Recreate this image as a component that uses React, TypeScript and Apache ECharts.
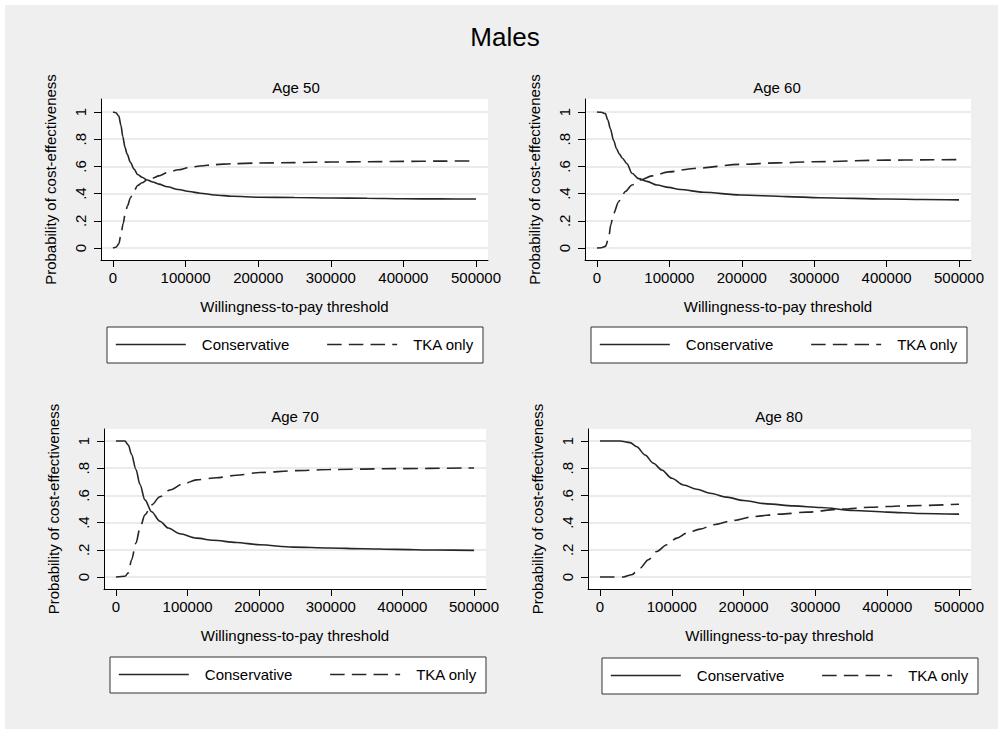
import React, { useEffect, useRef } from 'react';
import * as echarts from 'echarts';

const mainTitle = 'Males';
const panelTitles = ['Age 50', 'Age 60', 'Age 70', 'Age 80'];
const seriesNames = ['Conservative', 'TKA only'];
const xAxisTitle = 'Willingness-to-pay threshold';
const yAxisTitle = 'Probability of cost-effectiveness';
const xTickValues = [0, 100000, 200000, 300000, 400000, 500000];
const yTickValues = [0, 0.2, 0.4, 0.6, 0.8, 1];
const yTickLabels = ['0', '.2', '.4', '.6', '.8', '1'];

// Age 50
const age50ConsX = [0, 4000, 8000, 11000, 13500, 16500, 19500, 24000, 29000, 34000, 40000, 47000, 55000, 63000, 75000, 90000, 105000, 120000, 140000, 165000, 200000, 250000, 300000, 350000, 400000, 450000, 500000];
const age50ConsY = [1, 0.995, 0.97, 0.9, 0.82, 0.74, 0.69, 0.63, 0.58, 0.54, 0.52, 0.5, 0.485, 0.47, 0.45, 0.43, 0.415, 0.403, 0.39, 0.38, 0.373, 0.371, 0.368, 0.366, 0.362, 0.361, 0.36];
const age50TkaX = [0, 4000, 8000, 11000, 14000, 17000, 20000, 24000, 29000, 34000, 40000, 47000, 55000, 63000, 75000, 90000, 105000, 120000, 140000, 165000, 200000, 250000, 300000, 350000, 400000, 450000, 500000];
const age50TkaY = [0, 0.005, 0.03, 0.1, 0.18, 0.26, 0.31, 0.37, 0.42, 0.46, 0.48, 0.5, 0.515, 0.53, 0.555, 0.575, 0.592, 0.603, 0.613, 0.62, 0.625, 0.628, 0.632, 0.634, 0.637, 0.639, 0.64];

// Age 60
const age60ConsX = [0, 6000, 11500, 15000, 18400, 23000, 27000, 31000, 35000, 41400, 48300, 57500, 69000, 82900, 99000, 115000, 147000, 198000, 262000, 308000, 400000, 450000, 500000];
const age60ConsY = [1, 0.998, 0.988, 0.94, 0.878, 0.79, 0.73, 0.69, 0.66, 0.62, 0.55, 0.51, 0.49, 0.463, 0.446, 0.43, 0.41, 0.39, 0.378, 0.37, 0.36, 0.357, 0.354];
const age60TkaX = [0, 6000, 11500, 16100, 19000, 23000, 29900, 34000, 39100, 48300, 59800, 76000, 99000, 133500, 198000, 250000, 299000, 400000, 450000, 500000];
const age60TkaY = [0, 0.002, 0.012, 0.07, 0.17, 0.256, 0.34, 0.38, 0.415, 0.463, 0.5, 0.53, 0.56, 0.585, 0.615, 0.626, 0.634, 0.646, 0.648, 0.65];

// Age 70
const age70ConsX = [0, 12500, 17200, 21800, 27900, 33500, 40400, 49700, 61300, 73000, 89200, 112500, 135700, 168000, 200700, 247000, 298000, 345000, 391000, 447000, 500000];
const age70ConsY = [1, 1, 0.97, 0.9, 0.79, 0.68, 0.567, 0.48, 0.41, 0.36, 0.318, 0.286, 0.27, 0.254, 0.237, 0.22, 0.213, 0.208, 0.203, 0.198, 0.196];
const age70TkaX = [0, 12500, 17200, 21800, 27900, 33500, 40400, 49700, 61300, 75300, 93900, 112500, 140300, 168000, 200700, 252000, 298000, 391000, 500000];
const age70TkaY = [0, 0.005, 0.03, 0.127, 0.25, 0.36, 0.457, 0.53, 0.59, 0.64, 0.685, 0.714, 0.73, 0.748, 0.768, 0.782, 0.79, 0.797, 0.802];

// Age 80
const age80ConsX = [0, 27900, 41900, 51200, 62800, 74400, 86000, 100000, 116300, 134900, 153500, 176700, 200000, 232600, 269800, 307000, 353500, 400000, 446500, 500000];
const age80ConsY = [1, 1, 0.988, 0.958, 0.897, 0.836, 0.787, 0.726, 0.677, 0.645, 0.616, 0.587, 0.562, 0.538, 0.523, 0.511, 0.489, 0.477, 0.467, 0.462];
const age80TkaX = [0, 32600, 44200, 55800, 67400, 79100, 93000, 107000, 121000, 139500, 158100, 186000, 214000, 251000, 288400, 335000, 377000, 423000, 500000];
const age80TkaY = [0, 0, 0.017, 0.066, 0.127, 0.188, 0.237, 0.286, 0.323, 0.352, 0.384, 0.416, 0.445, 0.462, 0.477, 0.499, 0.513, 0.523, 0.535];

const panelData = [
  [[age50ConsX, age50ConsY], [age50TkaX, age50TkaY]],
  [[age60ConsX, age60ConsY], [age60TkaX, age60TkaY]],
  [[age70ConsX, age70ConsY], [age70TkaX, age70TkaY]],
  [[age80ConsX, age80ConsY], [age80TkaX, age80TkaY]],
];

const FONT = '"Liberation Sans", Arial, sans-serif';
const INK = '#000000';
const LINE = '#262626';
const DASH = [14.5, 7.2];

const gridBoxes = [
  { left: 101, top: 99, width: 387, height: 161 },
  { left: 585, top: 99, width: 386, height: 161 },
  { left: 104, top: 429, width: 382, height: 160 },
  { left: 588, top: 429, width: 383, height: 160 },
];
const titlePos = [
  [296, 87],
  [777, 87],
  [295, 416],
  [779, 416],
];
const legendPos = [
  { left: 107, top: 327 },
  { left: 591, top: 327 },
  { left: 110, top: 657 },
  { left: 602, top: 658 },
];
const PAD = 12;
const Y_SPAN = 136;

export default function App() {
  const ref = useRef<HTMLDivElement>(null);
  useEffect(() => {
    if (!ref.current) return;
    const chart = echarts.init(ref.current, null, { renderer: 'svg' });

    const xMax = xTickValues[xTickValues.length - 1];
    const grid = gridBoxes.map((g) => ({
      ...g,
      show: true,
      backgroundColor: '#ffffff',
      borderWidth: 0,
      containLabel: false,
    }));

    const xAxis = gridBoxes.map((g, i) => {
      const per = xMax / (g.width - 2 * PAD);
      return {
        type: 'value',
        gridIndex: i,
        min: -PAD * per,
        max: xMax + PAD * per,
        name: xAxisTitle,
        nameLocation: 'middle',
        nameGap: 39,
        nameTextStyle: { fontSize: 15, color: INK, fontFamily: FONT },
        axisLine: { show: true, onZero: false, lineStyle: { color: INK, width: 1 } },
        axisTick: { show: true, length: 7, customValues: xTickValues, lineStyle: { color: INK, width: 1 } },
        axisLabel: {
          customValues: xTickValues,
          fontSize: 15,
          color: INK,
          fontFamily: FONT,
          margin: 10,
          formatter: (v: number) => String(Math.round(v)),
        },
        splitLine: { show: false },
      };
    });

    const yAxis = gridBoxes.map((g, i) => {
      const topPad = g.height - PAD - Y_SPAN;
      return {
        type: 'value',
        gridIndex: i,
        min: -PAD / Y_SPAN,
        max: 1 + topPad / Y_SPAN,
        name: yAxisTitle,
        nameLocation: 'middle',
        nameGap: 43,
        nameRotate: 90,
        nameTextStyle: { fontSize: 15, color: INK, fontFamily: FONT },
        axisLine: { show: true, onZero: false, lineStyle: { color: INK, width: 1 } },
        axisTick: { show: true, length: 7, customValues: yTickValues, lineStyle: { color: INK, width: 1 } },
        axisLabel: {
          customValues: yTickValues,
          rotate: 90,
          align: 'center',
          verticalAlign: 'middle',
          fontSize: 15,
          color: INK,
          fontFamily: FONT,
          margin: 21,
          formatter: (v: number) => {
            const idx = yTickValues.findIndex((t) => Math.abs(t - v) < 1e-6);
            return idx >= 0 ? yTickLabels[idx] : '';
          },
        },
        splitLine: { show: true, lineStyle: { color: '#e4e4e4', width: 1.5 } },
      };
    });

    const series: any[] = [];
    panelData.forEach((panel, i) => {
      panel.forEach(([xs, ys], j) => {
        series.push({
          type: 'line',
          name: seriesNames[j],
          xAxisIndex: i,
          yAxisIndex: i,
          data: xs.map((x, k) => [x, ys[k]]),
          symbol: 'none',
          showSymbol: false,
          smooth: 0.3,
          smoothMonotone: 'x',
          lineStyle: { color: LINE, width: 1.6, type: j === 0 ? 'solid' : DASH },
          itemStyle: { color: LINE },
          emphasis: { disabled: true },
          silent: true,
        });
      });
    });

    const legend = legendPos.map((p) => ({
      ...p,
      orient: 'horizontal',
      data: seriesNames,
      selectedMode: false,
      itemWidth: 70,
      itemHeight: 14,
      itemGap: 37,
      padding: [10, 9, 11, 8],
      backgroundColor: '#ffffff',
      borderColor: '#333333',
      borderWidth: 1,
      borderRadius: 0,
      itemStyle: { color: 'rgba(0,0,0,0)', borderColor: 'rgba(0,0,0,0)', borderWidth: 0 },
      lineStyle: { color: LINE, width: 1.6 },
      textStyle: { fontSize: 15, color: INK, fontFamily: FONT, padding: [0, 0, 0, 11] },
    }));

    const graphic: any[] = [
      {
        type: 'rect',
        silent: true,
        z: -100,
        shape: { x: 5, y: 5, width: 993, height: 724 },
        style: { fill: '#efefef' },
      },
      {
        type: 'text',
        x: 505,
        y: 37,
        style: { text: mainTitle, fill: INK, font: `26px ${FONT}`, align: 'center', verticalAlign: 'middle' },
      },
      ...panelTitles.map((t, i) => ({
        type: 'text',
        x: titlePos[i][0],
        y: titlePos[i][1],
        style: { text: t, fill: INK, font: `15px ${FONT}`, align: 'center', verticalAlign: 'middle' },
      })),
    ];

    chart.setOption({
      animation: false,
      backgroundColor: '#ffffff',
      textStyle: { fontFamily: FONT },
      grid,
      xAxis,
      yAxis,
      legend,
      series,
      graphic,
    });
    return () => chart.dispose();
  }, []);
  return <div ref={ref} style={{ position: 'absolute', left: 0, top: 0, width: 998, height: 729 }} />;
}
